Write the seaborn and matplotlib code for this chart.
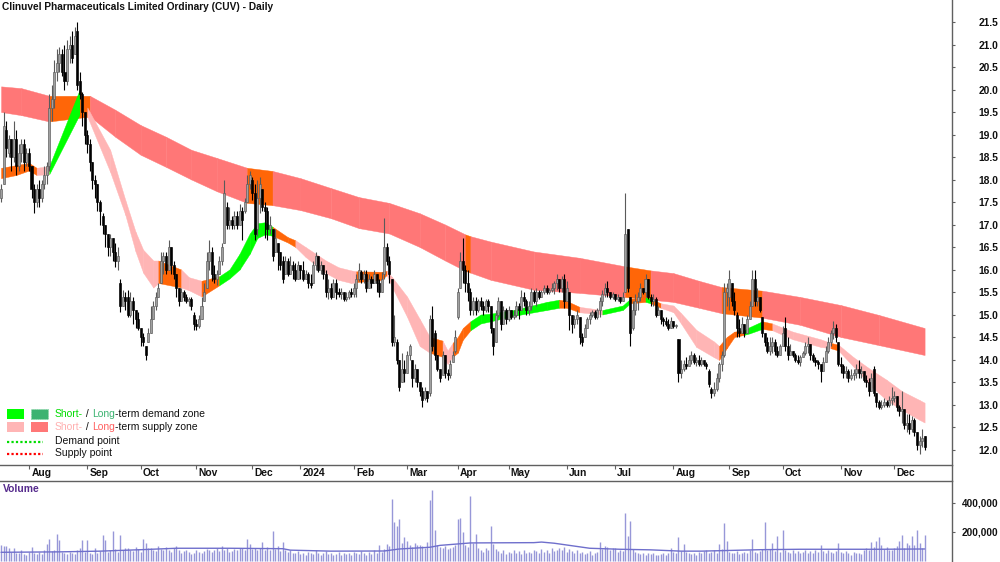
import numpy as np
import pandas as pd
import matplotlib
matplotlib.use("Agg")
import matplotlib.pyplot as plt
import matplotlib.transforms as mtrans
from matplotlib.patches import Rectangle
from matplotlib.lines import Line2D
import seaborn as sns

TITLE = "Clinuvel Pharmaceuticals Limited Ordinary (CUV) - Daily"
START, END = "2023-07-17", "2024-12-18"
HOLIDAYS = ["2023-12-25", "2023-12-26", "2024-01-01", "2024-01-26",
            "2024-03-29", "2024-04-01", "2024-04-25", "2024-06-10"]

opens = [
    17.6, 17.9, 19.1, 18.6, 18.9, 18.5, 18.9, 18.3, 18.6, 18.8,
    18.4, 18.6, 18.3, 17.8, 17.5, 17.8, 17.6, 17.9, 18.1, 18.3,
    19.6, 19.8, 20.4, 20.6, 20.8, 20.4, 20.2, 20.9, 21.0, 20.8,
    21.3, 20.2, 19.9, 19.5, 19.0, 18.8, 18.4, 18.0, 17.9, 17.5,
    17.2, 17.0, 16.8, 16.5, 16.7, 16.4, 16.2,
    15.7, 15.2, 15.4, 15.4, 15.0, 15.3, 15.1, 14.9, 14.7, 14.5,
    14.3, 14.4, 14.6, 14.9, 15.2, 15.4, 15.7, 16.2, 16.3, 16.0,
    16.5, 16.1, 15.9, 15.6, 15.3, 15.5, 15.4, 15.3, 15.35, 15.0,
    14.8, 14.75, 14.9, 15.3, 15.6, 16.2, 16.4, 15.9, 15.8, 15.9,
    16.2, 16.6, 17.4, 17.0, 17.1, 17.0, 17.2, 17.0, 17.3, 17.3,
    17.5, 17.9, 18.0,
    17.7, 16.9, 17.6, 17.8, 17.4, 17.3, 16.9, 16.9, 16.4, 16.6,
    16.4, 16.2, 15.9, 16.2, 15.9, 16.1, 16.0, 15.8, 16.1, 16.0,
    15.8, 15.9, 15.7, 15.7, 16.1, 16.3, 16.0, 16.1, 15.9, 15.5,
    15.6, 15.4, 15.7, 15.5, 15.45, 15.5, 15.35, 15.4, 15.5, 15.45,
    15.6, 15.8, 15.95, 15.8, 15.9, 15.6, 15.8, 15.7, 15.9, 15.7,
    15.5, 15.9, 16.5,
    16.2, 15.8, 14.4, 14.4, 14.0, 13.5, 13.8, 13.7, 14.1, 14.0,
    13.6, 13.8, 13.5, 13.3, 13.15, 13.3, 13.25, 14.9, 14.6, 14.1,
    13.8, 13.65, 14.1, 13.7, 13.65, 13.95, 14.2, 14.95, 15.6, 16.2,
    16.0, 15.7, 15.5, 15.1, 15.3, 15.1, 15.3, 15.2, 15.1, 15.3,
    15.2, 14.7, 14.4, 15.0, 15.3, 14.8, 15.1, 14.9, 15.1, 14.95,
    15.0,
    15.2, 15.1, 15.4, 15.3, 15.1, 15.2, 15.5, 15.3, 15.5, 15.4,
    15.5, 15.6, 15.5, 15.55, 15.6, 15.7, 15.8, 15.6, 15.8, 15.3,
    15.5, 15.0, 14.8, 14.9, 14.95, 14.5, 14.5, 14.7, 14.9, 15.0,
    15.05, 14.95, 15.1, 15.3, 15.45, 15.6, 15.5, 15.4, 15.45, 15.35,
    15.4, 15.3, 15.5, 16.9, 15.4, 14.7, 15.1, 15.3, 15.4, 15.6,
    15.5, 15.8, 15.4, 15.3, 15.35, 15.0, 15.1, 14.9, 14.85, 14.8,
    14.7, 14.85, 14.75, 14.45, 13.7, 13.8, 13.9, 13.85, 14.0, 14.1,
    13.95, 14.0, 13.9, 14.0, 13.9, 13.75, 13.35, 13.25, 13.35, 13.6,
    13.9, 14.1, 15.5, 15.4, 15.7, 15.3, 15.0, 14.7, 14.6, 14.8,
    14.6, 14.9, 15.2, 15.8, 15.3, 15.4, 14.95, 14.6, 14.4, 14.2,
    14.3, 14.4, 14.2, 14.1, 14.3, 14.7, 14.3, 14.1, 14.2, 14.1,
    14.0, 13.95, 14.05, 14.15, 14.3, 14.35, 14.1, 14.0, 13.95, 13.9,
    13.75, 13.95, 14.2, 14.4, 14.6, 14.7, 14.4, 13.9, 13.85, 13.7,
    13.75, 13.6, 13.65, 13.7, 13.8, 13.7, 13.75, 13.55, 13.5, 13.3,
    13.8, 13.25, 13.05, 12.95, 13.0, 13.05, 13.0, 13.1, 13.15, 13.2,
    12.95, 12.85, 12.9, 12.55, 12.6, 12.45, 12.65, 12.4, 12.1, 12.2,
    12.3,
]

highs = [
    17.9, 19.5, 19.3, 19.0, 18.9, 19.3, 19.1, 18.8, 18.9, 18.9,
    18.7, 18.7, 18.3, 17.9, 17.9, 18.0, 18.0, 18.3, 18.4, 19.9,
    20.1, 20.65, 20.9, 20.95, 20.9, 21.0, 21.1, 21.2, 21.3, 21.4,
    21.5, 20.4, 19.95, 19.5, 19.1, 18.9, 18.4, 18.1, 17.9, 17.55,
    17.25, 17.0, 16.8, 16.8, 16.7, 16.6, 16.5,
    15.8, 15.55, 15.5, 15.55, 15.5, 15.4, 15.1, 15.05, 14.7, 14.6,
    14.3, 14.7, 15.2, 15.3, 15.5, 15.7, 16.4, 16.4, 16.4, 16.65,
    16.4, 16.2, 15.9, 15.6, 15.6, 15.55, 15.45, 15.4, 15.4, 15.05,
    14.9, 15.0, 15.4, 15.7, 16.4, 16.65, 16.5, 16.1, 16.0, 16.3,
    16.6, 18.0, 17.5, 17.4, 17.2, 17.3, 17.3, 17.45, 17.4, 17.6,
    18.1, 18.2, 18.05,
    17.9, 18.0, 18.05, 17.7, 17.5, 17.4, 17.2, 16.9, 16.9, 16.5,
    16.4, 16.3, 16.3, 16.25, 16.3, 16.2, 16.15, 16.2, 16.1, 16.2,
    16.0, 15.95, 15.9, 16.2, 16.4, 16.2, 16.2, 16.1, 16.0, 15.8,
    15.7, 15.8, 15.8, 15.6, 15.6, 15.5, 15.5, 15.55, 15.6, 15.7,
    15.9, 16.15, 16.0, 16.0, 16.0, 15.9, 15.85, 16.0, 15.9, 15.8,
    15.95, 17.15, 16.6,
    16.3, 15.8, 15.0, 14.45, 14.0, 14.15, 14.0, 14.2, 14.35, 14.0,
    13.9, 13.8, 13.5, 13.4, 13.4, 13.3, 15.0, 15.2, 14.65, 14.1,
    13.75, 14.2, 13.9, 13.8, 14.0, 14.2, 14.65, 15.6, 16.4, 16.7,
    16.1, 16.0, 15.6, 15.4, 15.4, 15.35, 15.4, 15.3, 15.35, 15.35,
    15.2, 14.7, 15.1, 15.4, 15.1, 15.2, 15.15, 15.2, 15.1, 15.1,
    15.3,
    15.25, 15.55, 15.5, 15.35, 15.3, 15.6, 15.55, 15.6, 15.55, 15.55,
    15.65, 15.65, 15.6, 15.7, 15.75, 15.9, 15.8, 15.85, 15.9, 15.75,
    15.5, 15.0, 15.0, 15.1, 14.95, 14.6, 14.8, 14.95, 15.05, 15.1,
    15.1, 15.15, 15.4, 15.55, 15.7, 15.75, 15.5, 15.5, 15.45, 15.45,
    15.4, 15.5, 17.7, 16.9, 15.4, 15.3, 15.45, 15.5, 15.7, 15.6,
    15.9, 15.8, 15.45, 15.45, 15.4, 15.2, 15.0, 14.95, 14.95, 14.9,
    14.95, 14.85, 14.8, 14.45, 14.0, 14.0, 14.05, 14.1, 14.2, 14.15,
    14.05, 14.1, 14.05, 14.0, 13.95, 13.8, 13.4, 13.5, 13.7, 13.95,
    14.2, 15.7, 15.7, 16.0, 15.7, 15.5, 15.05, 14.9, 14.95, 14.8,
    15.0, 15.3, 16.0, 16.0, 15.6, 15.2, 14.95, 14.6, 14.5, 14.5,
    14.5, 14.45, 14.3, 14.35, 14.75, 14.95, 14.5, 14.35, 14.2, 14.15,
    14.1, 14.1, 14.2, 14.4, 14.5, 14.35, 14.15, 14.05, 14.0, 13.9,
    14.05, 14.3, 14.5, 14.65, 14.85, 14.8, 14.4, 14.05, 13.9, 13.85,
    13.8, 13.8, 13.8, 13.9, 14.0, 13.85, 13.75, 13.65, 13.6, 13.7,
    13.85, 13.25, 13.1, 13.1, 13.15, 13.1, 13.2, 13.4, 13.3, 13.15,
    13.0, 13.3, 12.9, 12.8, 12.8, 12.75, 12.7, 12.3, 12.3, 12.45,
    12.3,
]

lows = [
    17.5, 17.9, 18.5, 18.5, 18.2, 18.4, 18.1, 18.2, 18.4, 18.2,
    18.3, 18.2, 17.6, 17.25, 17.4, 17.4, 17.5, 17.8, 17.9, 18.2,
    19.3, 19.6, 20.2, 20.4, 20.3, 20.0, 20.1, 20.6, 20.6, 20.8,
    20.0, 19.8, 19.2, 18.8, 18.6, 18.2, 17.8, 17.6, 17.3, 17.0,
    16.8, 16.5, 16.3, 16.3, 16.2, 16.05, 16.0,
    15.05, 15.2, 15.1, 14.95, 14.95, 14.8, 14.7, 14.65, 14.3, 14.3,
    14.0, 14.4, 14.75, 14.9, 15.1, 15.4, 15.7, 15.9, 15.9, 16.0,
    15.9, 15.8, 15.4, 15.2, 15.3, 15.3, 15.25, 15.2, 15.1, 14.65,
    14.65, 14.7, 14.95, 15.3, 15.6, 16.0, 15.75, 15.7, 15.65, 15.9,
    16.1, 16.65, 16.9, 16.9, 16.9, 16.9, 16.9, 17.0, 16.65, 17.25,
    17.5, 17.8, 17.55,
    16.65, 16.75, 17.25, 17.3, 16.7, 16.65, 16.8, 16.2, 16.5, 16.0,
    16.0, 15.7, 15.9, 15.85, 15.9, 15.8, 15.75, 15.8, 15.8, 15.75,
    15.8, 15.6, 15.6, 15.95, 16.0, 15.95, 15.9, 15.8, 15.4, 15.35,
    15.35, 15.4, 15.35, 15.4, 15.35, 15.3, 15.3, 15.35, 15.4, 15.4,
    15.4, 15.75, 15.7, 15.7, 15.5, 15.6, 15.6, 15.7, 15.5, 15.4,
    15.5, 15.8, 16.1,
    15.7, 14.3, 14.3, 13.9, 13.3, 13.55, 13.5, 13.7, 14.0, 13.4,
    13.5, 13.4, 13.2, 12.95, 13.1, 13.05, 13.2, 14.2, 14.0, 13.75,
    13.5, 13.85, 13.6, 13.55, 13.6, 13.95, 14.15, 14.9, 15.7, 15.7,
    15.5, 15.3, 15.0, 15.0, 15.0, 15.05, 15.1, 15.0, 15.05, 15.05,
    14.6, 14.1, 14.4, 14.95, 14.65, 14.8, 14.8, 14.85, 14.9, 14.9,
    14.95,
    14.9, 15.1, 15.2, 15.0, 15.0, 15.1, 15.25, 15.2, 15.35, 15.4,
    15.45, 15.45, 15.45, 15.5, 15.45, 15.55, 15.5, 15.5, 15.15, 15.3,
    14.65, 14.6, 14.7, 14.8, 14.35, 14.3, 14.5, 14.7, 14.8, 14.95,
    14.9, 14.9, 14.95, 15.2, 15.4, 15.4, 15.35, 15.35, 15.3, 15.3,
    15.25, 15.3, 15.5, 15.5, 14.3, 14.65, 15.0, 15.1, 15.3, 15.45,
    15.4, 15.35, 15.2, 15.2, 14.95, 15.0, 14.8, 14.75, 14.75, 14.65,
    14.7, 14.7, 14.7, 13.5, 13.6, 13.75, 13.8, 13.85, 13.9, 13.9,
    13.85, 13.85, 13.85, 13.85, 13.8, 13.4, 13.15, 13.2, 13.3, 13.5,
    13.75, 14.05, 15.2, 15.1, 15.2, 15.0, 14.5, 14.5, 14.6, 14.5,
    14.6, 14.9, 15.2, 15.2, 15.2, 15.05, 14.5, 14.3, 14.15, 14.1,
    14.15, 14.1, 14.05, 14.1, 14.4, 14.2, 14.0, 14.1, 14.05, 13.95,
    13.9, 13.85, 14.05, 14.1, 14.15, 14.0, 13.95, 13.85, 13.8, 13.5,
    13.75, 13.95, 14.15, 14.3, 14.45, 14.4, 13.85, 13.7, 13.6, 13.6,
    13.5, 13.55, 13.55, 13.6, 13.6, 13.6, 13.5, 13.4, 13.2, 13.3,
    13.2, 12.95, 12.9, 12.9, 12.95, 12.95, 12.95, 13.0, 13.05, 12.85,
    12.75, 12.6, 12.45, 12.4, 12.35, 12.4, 12.3, 12.0, 11.9, 12.05,
    12.0,
]

closes = [
    17.8, 19.2, 18.7, 18.9, 18.5, 18.9, 18.3, 18.6, 18.8, 18.4,
    18.6, 18.3, 17.8, 17.5, 17.8, 17.6, 17.9, 18.1, 18.3, 19.6,
    19.8, 20.4, 20.6, 20.8, 20.4, 20.2, 20.9, 21.0, 20.7, 21.2,
    20.1, 19.9, 19.5, 19.0, 18.8, 18.4, 18.0, 17.9, 17.5, 17.3,
    17.0, 16.8, 16.5, 16.7, 16.4, 16.2, 16.3,
    15.2, 15.4, 15.3, 15.0, 15.3, 15.1, 14.9, 14.7, 14.5, 14.4,
    14.1, 14.6, 14.9, 15.2, 15.4, 15.6, 16.2, 16.3, 16.0, 16.5,
    16.1, 15.9, 15.6, 15.3, 15.5, 15.4, 15.3, 15.35, 15.2, 14.8,
    14.75, 14.9, 15.2, 15.5, 16.2, 16.4, 15.9, 15.8, 15.9, 16.2,
    16.5, 17.7, 17.0, 17.1, 17.0, 17.2, 17.0, 17.3, 17.1, 17.5,
    17.9, 18.1, 17.7,
    16.8, 17.6, 17.9, 17.4, 17.3, 16.9, 17.0, 16.3, 16.7, 16.4,
    16.1, 15.8, 16.2, 15.9, 16.1, 16.0, 15.8, 16.1, 16.0, 15.8,
    15.9, 15.7, 15.65, 16.1, 16.3, 16.0, 16.1, 15.9, 15.5, 15.6,
    15.4, 15.7, 15.5, 15.45, 15.5, 15.35, 15.4, 15.5, 15.45, 15.6,
    15.8, 16.0, 15.8, 15.9, 15.6, 15.8, 15.7, 15.9, 15.7, 15.5,
    15.8, 16.5, 16.2,
    15.9, 14.4, 14.5, 14.0, 13.4, 13.8, 13.7, 14.1, 14.3, 13.6,
    13.8, 13.5, 13.3, 13.1, 13.3, 13.15, 14.9, 14.3, 14.1, 13.8,
    13.6, 14.1, 13.7, 13.65, 13.9, 14.1, 14.5, 15.5, 16.2, 16.0,
    15.7, 15.5, 15.1, 15.3, 15.1, 15.3, 15.2, 15.1, 15.3, 15.2,
    14.7, 14.3, 15.0, 15.3, 14.8, 15.1, 14.9, 15.1, 14.95, 15.0,
    15.2,
    15.1, 15.4, 15.3, 15.1, 15.2, 15.5, 15.3, 15.5, 15.4, 15.5,
    15.6, 15.5, 15.55, 15.6, 15.7, 15.8, 15.6, 15.8, 15.3, 15.6,
    15.0, 14.8, 14.9, 15.0, 14.5, 14.4, 14.7, 14.9, 15.0, 15.05,
    14.95, 15.1, 15.3, 15.45, 15.6, 15.5, 15.4, 15.45, 15.35, 15.4,
    15.3, 15.4, 16.8, 15.6, 14.6, 15.1, 15.3, 15.4, 15.6, 15.5,
    15.8, 15.4, 15.3, 15.35, 15.0, 15.1, 14.9, 14.85, 14.8, 14.7,
    14.85, 14.75, 14.75, 13.7, 13.8, 13.9, 13.85, 14.0, 14.1, 13.95,
    14.0, 13.9, 14.0, 13.9, 13.85, 13.45, 13.25, 13.35, 13.6, 13.9,
    14.1, 15.5, 15.6, 15.8, 15.3, 15.1, 14.7, 14.6, 14.8, 14.6,
    14.9, 15.2, 15.8, 15.3, 15.4, 15.1, 14.6, 14.4, 14.2, 14.3,
    14.4, 14.2, 14.1, 14.3, 14.6, 14.3, 14.1, 14.2, 14.1, 14.0,
    13.95, 14.05, 14.15, 14.3, 14.35, 14.1, 14.0, 13.95, 13.9, 13.75,
    13.95, 14.2, 14.4, 14.6, 14.7, 14.5, 13.9, 13.85, 13.7, 13.75,
    13.6, 13.65, 13.7, 13.8, 13.7, 13.75, 13.55, 13.5, 13.3, 13.6,
    13.25, 13.05, 12.95, 13.0, 13.05, 13.0, 13.1, 13.15, 13.2, 12.95,
    12.85, 12.9, 12.55, 12.6, 12.45, 12.65, 12.4, 12.1, 12.2, 12.25,
    12.05,
]

volumes_k = [
    108, 99, 100, 85, 58, 85, 50, 52, 70, 45,
    40, 60, 92, 55, 48, 60, 45, 70, 115, 150,
    65, 70, 184, 143, 60, 55, 48, 62, 50, 45,
    70, 85, 145, 60, 140, 55, 45, 90, 50, 65,
    177, 145, 60, 70, 207, 80, 60, 177, 75, 90,
    85, 70, 65, 95, 80, 60, 150, 120, 85, 90,
    75, 65, 100, 80, 70, 95, 75, 60, 85, 100,
    70, 55, 65, 75, 60, 45, 55, 70, 60, 55,
    65, 80, 70, 60, 75, 90, 65, 104, 70, 85,
    60, 65, 80, 75, 90, 85, 70, 150, 115, 80,
    85, 75, 90, 127, 70, 95, 75, 207, 80, 100,
    65, 127, 70, 60, 75, 55, 50, 65, 45, 55,
    40, 60, 50, 45, 70, 55, 40, 50, 65, 45,
    55, 40, 45, 60, 35, 50, 45, 55, 40, 60,
    50, 45, 65, 55, 40, 60, 45, 70, 55, 110,
    60, 80, 115, 100, 430, 270, 240, 288, 120, 160,
    138, 110, 95, 120, 105, 110, 100, 90, 125, 420,
    490, 214, 110, 95, 85, 100, 80, 90, 95, 105,
    288, 292, 200, 110, 95, 450, 120, 184, 90, 75,
    60, 85, 70, 240, 115, 80, 65, 55, 70, 45,
    60, 50, 75, 55, 65, 45, 70, 50, 60, 55,
    75, 65, 50, 80, 60, 70, 55, 90, 65, 75,
    85, 70, 95, 60, 80, 65, 50, 75, 55, 60,
    45, 55, 65, 40, 50, 60, 131, 80, 100, 95,
    70, 85, 90, 60, 75, 65, 333, 172, 276, 80,
    60, 55, 45, 50, 40, 55, 45, 50, 35, 40,
    45, 50, 40, 55, 85, 60, 50, 161, 65, 115,
    60, 50, 45, 55, 40, 60, 50, 65, 75, 55,
    60, 70, 55, 115, 80, 258, 138, 60, 55, 50,
    65, 45, 55, 60, 50, 70, 150, 60, 55, 65,
    80, 270, 75, 80, 122, 65, 172, 60, 214, 75,
    60, 55, 70, 50, 65, 55, 60, 70, 50, 65,
    55, 70, 60, 108, 65, 55, 70, 60, 55, 65,
    120, 60, 50, 65, 55, 40, 60, 50, 55, 45,
    70, 90, 75, 127, 95, 138, 161, 110, 80, 95,
    75, 70, 85, 100, 138, 177, 90, 120, 105, 172,
    110, 214, 120, 90, 177,
]

vol_avg_idx = [0, 23, 39, 55, 69, 90, 111, 114, 130, 151, 157, 169, 173, 185,
               210, 213, 218, 232, 244, 256, 268, 276, 283, 299, 315, 346, 364]
vol_avg_k = [57, 60, 65, 75, 85, 85, 82, 72, 65, 66, 80, 92, 105, 122,
             124, 128, 120, 85, 78, 74, 65, 65, 68, 75, 78, 78, 80]

# long-term zone (anchor bar index, top, bottom, state of following segment)
long_idx = [0, 8, 19, 35, 45, 55, 65, 75, 85, 97, 107, 118, 130, 141, 153, 165,
            175, 183, 185, 193, 210, 228, 246, 256, 265, 275, 284, 300, 315, 331,
            346, 364]
long_top = [20.07, 20.03, 19.86, 19.86, 19.55, 19.21, 18.95, 18.66, 18.48, 18.26,
            18.19, 18.03, 17.81, 17.61, 17.48, 17.25, 17.00, 16.78, 16.74, 16.62,
            16.40, 16.26, 16.07, 15.98, 15.92, 15.75, 15.61, 15.53, 15.39, 15.21,
            14.99, 14.70]
long_bot = [19.50, 19.43, 19.29, 19.40, 18.95, 18.55, 18.28, 18.00, 17.74, 17.48,
            17.43, 17.32, 17.14, 16.92, 16.80, 16.50, 16.20, 15.97, 15.93, 15.77,
            15.55, 15.48, 15.39, 15.33, 15.28, 15.15, 15.03, 14.93, 14.77, 14.50,
            14.32, 14.10]
long_state = ["r", "r", "o", "r", "r", "r", "r", "r", "r", "o", "r", "r", "r", "r",
              "r", "r", "r", "o", "r", "r", "r", "r", "o", "r", "r", "r", "o", "r",
              "r", "r", "r"]

# short-term zone
short_idx = [0, 6, 11, 14, 19, 31, 34, 43, 49, 53, 56, 60, 62, 71, 74, 79, 86, 90,
             94, 98, 101, 104, 107, 113, 116, 120, 128, 133, 138, 140, 150, 152,
             154, 160, 165, 169, 174, 176, 178, 180, 182, 185, 189, 193, 202, 215,
             220, 223, 228, 237, 245, 248, 254, 256, 260, 265, 268, 274, 281, 283,
             286, 289, 293, 295, 300, 304, 312, 323, 327, 330, 336, 343, 349, 355,
             362, 364]
short_top = [18.26, 18.32, 18.37, 18.26, 18.30, 20.00, 19.60, 18.66, 17.54, 16.84,
             16.44, 16.20, 16.20, 16.00, 15.83, 15.75, 15.85, 16.00, 16.35, 16.80,
             17.03, 17.05, 16.95, 16.72, 16.65, 16.50, 16.20, 16.05, 15.98, 15.96,
             15.95, 15.97, 15.84, 15.40, 14.90, 14.50, 14.42, 14.20, 14.37, 14.50,
             14.70, 14.85, 15.00, 15.02, 15.10, 15.28, 15.33, 15.30, 15.17, 15.10,
             15.20, 15.35, 15.38, 15.35, 15.25, 15.20, 15.03, 14.66, 14.40, 14.30,
             14.50, 14.62, 14.65, 14.72, 14.85, 14.80, 14.62, 14.45, 14.37, 14.33,
             14.05, 13.77, 13.55, 13.30, 13.10, 13.04]
short_bot = [18.03, 18.10, 18.20, 18.10, 18.12, 19.45, 19.40, 18.17, 17.21, 16.40,
             15.93, 15.60, 15.70, 15.60, 15.54, 15.40, 15.65, 15.80, 16.00, 16.35,
             16.70, 16.78, 16.75, 16.60, 16.50, 16.28, 15.92, 15.77, 15.70, 15.72,
             15.77, 15.88, 15.62, 14.95, 14.30, 14.15, 14.06, 13.90, 14.06, 14.15,
             14.44, 14.65, 14.80, 14.85, 14.97, 15.10, 15.15, 15.15, 15.05, 15.00,
             15.10, 15.25, 15.28, 15.25, 15.15, 15.05, 14.80, 14.28, 14.05, 13.99,
             14.25, 14.50, 14.55, 14.58, 14.68, 14.65, 14.45, 14.28, 14.25, 14.20,
             13.84, 13.40, 13.10, 12.88, 12.66, 12.60]
short_state = ["o", "o", "o", "p", "g", "o", "p", "p", "p", "p", "p", "p", "o", "p",
               "p", "o", "g", "g", "g", "g", "g", "g", "o", "o", "p", "p", "p", "p",
               "p", "o", "o", "p", "p", "p", "p", "o", "p", "p", "o", "o", "o", "g",
               "g", "g", "g", "g", "o", "o", "p", "g", "g", "o", "g", "o", "p", "p",
               "p", "p", "p", "o", "o", "o", "g", "g", "o", "p", "p", "p", "o", "p",
               "p", "p", "p", "p", "p"]

ZONE_COLORS = {"r": "#FF7777", "o": "#FF6608", "p": "#FFB5B5", "g": "#00FF00"}

# ---------------------------------------------------------------- setup
sns.set_theme(style="white")
plt.rcParams["font.family"] = ["Liberation Sans", "DejaVu Sans"]
plt.rcParams["axes.linewidth"] = 1.0

n = min(len(opens), len(highs), len(lows), len(closes), len(volumes_k))
o = np.array(opens[:n]); h = np.array(highs[:n])
l = np.array(lows[:n]); c = np.array(closes[:n])
v = np.array(volumes_k[:n]) * 1000.0
h = np.maximum(h, np.maximum(o, c))
l = np.minimum(l, np.minimum(o, c))
x = np.arange(n)

dates = pd.bdate_range(START, END)
dates = dates[~dates.isin(pd.to_datetime(HOLIDAYS))][:n]

W, H = 1000, 562
fig = plt.figure(figsize=(W / 100, H / 100), dpi=100)
fig.patch.set_facecolor("white")
PRICE_BOTTOM_PX, VOL_TOP_PX, RIGHT_PX = 465, 481, 952
axp = fig.add_axes([0, 1 - PRICE_BOTTOM_PX / H, RIGHT_PX / W, PRICE_BOTTOM_PX / H])
axv = fig.add_axes([0, 0, RIGHT_PX / W, (H - VOL_TOP_PX) / H])

XMIN, XMAX = -0.42, 374.8
for ax in (axp, axv):
    ax.set_facecolor("white")
    ax.set_xlim(XMIN, XMAX)
    ax.grid(False)
    ax.spines["left"].set_visible(False)
    ax.spines["right"].set_color("#606060")

# ---------------------------------------------------------------- zones
def draw_zone(ax, idx, top, bot, states, z):
    for k in range(len(idx) - 1):
        col = ZONE_COLORS[states[k]]
        ax.fill_between(idx[k:k + 2], bot[k:k + 2], top[k:k + 2],
                        facecolor=col, edgecolor=col, linewidth=0.3, zorder=z)

draw_zone(axp, long_idx, long_top, long_bot, long_state, 1)
draw_zone(axp, short_idx, short_top, short_bot, short_state, 2)

# ---------------------------------------------------------------- candles
up = c >= o
body_lo = np.minimum(o, c)
body_h = np.maximum(np.abs(c - o), 0.025)
axp.vlines(x[up], l[up], h[up], color="#5A5A5A", linewidth=0.8, zorder=3)
axp.vlines(x[~up], l[~up], h[~up], color="#000000", linewidth=0.8, zorder=3)
axp.bar(x[up], body_h[up], bottom=body_lo[up], width=0.8, color="#A0A0A0",
        edgecolor="#585858", linewidth=0.45, zorder=4)
axp.bar(x[~up], body_h[~up], bottom=body_lo[~up], width=0.8, color="#000000",
        edgecolor="#000000", linewidth=0.45, zorder=4)

axp.set_ylim(11.656, 21.989)
axp.spines["top"].set_visible(False)
axp.spines["bottom"].set_color("#606060")
yt = np.arange(12.0, 21.51, 0.5)
axp.set_yticks(yt)
axp.set_yticklabels([f"{t:.1f}" for t in yt])
axp.yaxis.tick_right()
axp.tick_params(axis="y", which="major", direction="out", length=2.5, width=0.8,
                color="#606060", pad=31, labelsize=7.4, labelcolor="#111111")
for lab in axp.get_yticklabels():
    lab.set_ha("right")
    lab.set_fontweight("bold")

# month ticks
ser = pd.Series(np.arange(n), index=dates)
grp = ser.groupby([dates.year, dates.month]).min()
month_pos, month_lab = [], []
for (yy, mm), pos in grp.items():
    if pos == 0:
        continue
    month_pos.append(pos)
    month_lab.append(str(yy) if mm == 1 else pd.Timestamp(yy, mm, 1).strftime("%b"))
axp.set_xticks(month_pos)
axp.set_xticklabels([])
axp.tick_params(axis="x", which="major", direction="out", length=3, width=0.8,
                color="#606060", bottom=True)
btrans = mtrans.blended_transform_factory(axp.transData, axp.transAxes)
for pos, lab in zip(month_pos, month_lab):
    axp.text(pos + 0.9, -8.5 / PRICE_BOTTOM_PX, lab, transform=btrans, ha="left",
             va="center", fontsize=7.4, fontweight="bold", color="#111111",
             clip_on=False)

# ---------------------------------------------------------------- volume
axv.vlines(x, 0, v, color="#9797D8", linewidth=1.0, zorder=2)
sns.lineplot(x=vol_avg_idx, y=np.array(vol_avg_k) * 1000.0, ax=axv,
             color="#6F6FCC", linewidth=1.0, zorder=3)
axv.set_ylim(-10400, 552000)
axv.spines["bottom"].set_visible(False)
axv.spines["top"].set_color("#606060")
axv.set_xticks([])
axv.set_yticks([200000, 400000])
axv.set_yticklabels(["200,000", "400,000"])
axv.yaxis.tick_right()
axv.tick_params(axis="y", direction="out", length=2.5, width=0.8, color="#606060",
                pad=31, labelsize=7.2, labelcolor="#111111")
for lab in axv.get_yticklabels():
    lab.set_ha("right")
    lab.set_fontweight("bold")
axv.set_xlabel(""); axv.set_ylabel("")
axp.set_xlabel(""); axp.set_ylabel("")

# connecting vertical line in the date strip
fig.add_artist(Line2D([RIGHT_PX / W] * 2, [1 - VOL_TOP_PX / H, 1 - PRICE_BOTTOM_PX / H],
                      transform=fig.transFigure, color="#606060", linewidth=1.0))

# ---------------------------------------------------------------- texts
def fx(px):
    return px / W

def fy(py):
    return 1 - py / H

fig.text(fx(2), fy(7.5), TITLE, fontsize=7.3, fontweight="bold", color="#111111",
         ha="left", va="center")
fig.text(fx(3), fy(489), "Volume", fontsize=7.4, fontweight="bold", color="#552A8C",
         ha="left", va="center")

renderer = fig.canvas.get_renderer()

def pieces_text(x_px, y_px, pieces, size=7.5):
    xf = fx(x_px)
    for s, col in pieces:
        t = fig.text(xf, fy(y_px), s, color=col, fontsize=size, ha="left", va="center")
        bb = t.get_window_extent(renderer=renderer)
        xf += bb.width / fig.bbox.width

# legend
fig.add_artist(Rectangle((fx(7), fy(419)), 17 / W, 10 / H, transform=fig.transFigure,
                         facecolor="#00FF00", edgecolor="none"))
fig.add_artist(Rectangle((fx(31), fy(419)), 17 / W, 10 / H, transform=fig.transFigure,
                         facecolor="#3CB371", edgecolor="#7FD6A0", linewidth=0.6,
                         linestyle=":"))
fig.add_artist(Rectangle((fx(7), fy(432)), 17 / W, 10 / H, transform=fig.transFigure,
                         facecolor="#FFB5B5", edgecolor="none"))
fig.add_artist(Rectangle((fx(31), fy(432)), 17 / W, 10 / H, transform=fig.transFigure,
                         facecolor="#FF7777", edgecolor="none"))
fig.add_artist(Line2D([fx(7), fx(43)], [fy(441.5)] * 2, transform=fig.transFigure,
                      color="#00DD00", linewidth=1.6, linestyle=(0, (1, 1))))
fig.add_artist(Line2D([fx(7), fx(43)], [fy(453.5)] * 2, transform=fig.transFigure,
                      color="#FF0000", linewidth=1.6, linestyle=(0, (1, 1))))
pieces_text(55, 414, [("Short-", "#00DD00"), (" / ", "#111111"), ("Long", "#3CB371"),
                      ("-term demand zone", "#111111")])
pieces_text(55, 427, [("Short-", "#FFB0B0"), (" / ", "#111111"), ("Long", "#FF6060"),
                      ("-term supply zone", "#111111")])
pieces_text(55, 441, [("Demand point", "#111111")])
pieces_text(55, 453, [("Supply point", "#111111")])

fig.savefig("out.png", dpi=100, facecolor="white")
